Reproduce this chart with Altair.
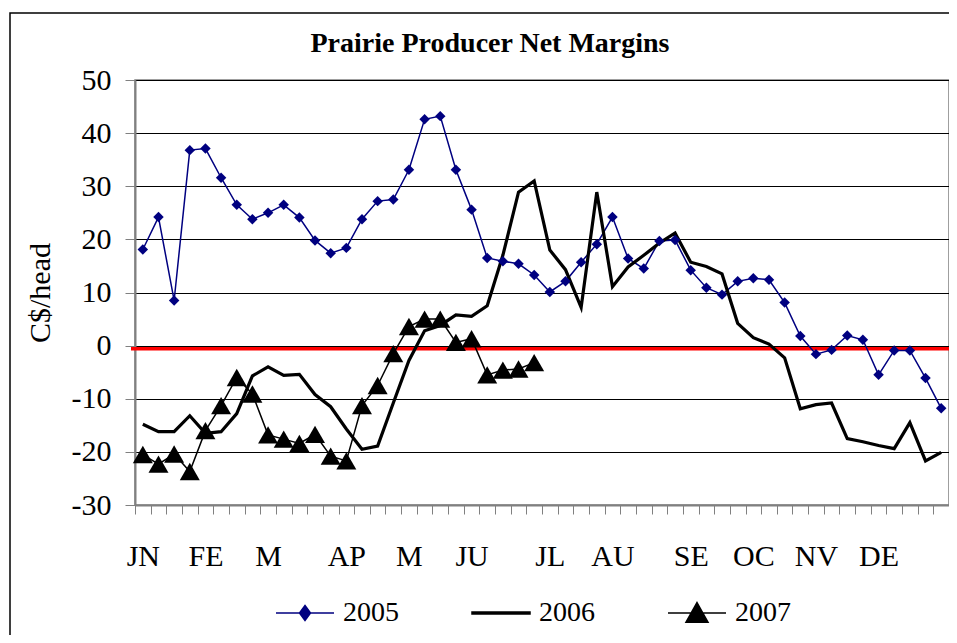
import altair as alt
import pandas as pd

# ---------------- data ----------------
weeks = list(range(1, 53))
margin_2005 = [18.1, 24.2, 8.5, 36.8, 37.1, 31.6, 26.5, 23.8, 25.0, 26.5,
               24.1, 19.8, 17.4, 18.4, 23.8, 27.2, 27.5, 33.1, 42.6, 43.2,
               33.1, 25.6, 16.5, 15.9, 15.4, 13.3, 10.1, 12.1, 15.7, 19.1,
               24.2, 16.4, 14.5, 19.7, 19.9, 14.2, 10.9, 9.6, 12.1, 12.7,
               12.4, 8.1, 1.8, -1.6, -0.8, 1.9, 1.1, -5.5, -0.9, -0.9,
               -6.1, -11.8]
margin_2006 = [-14.8, -16.2, -16.2, -13.2, -16.5, -16.2, -12.8, -5.7, -4.0, -5.6,
               -5.4, -9.2, -11.5, -15.7, -19.5, -18.9, -10.8, -2.8, 2.8, 3.8,
               5.8, 5.5, 7.5, 17.0, 28.9, 31.0, 18.0, 14.3, 7.2, 28.9,
               11.1, 14.8, 17.0, 19.3, 21.2, 15.7, 14.9, 13.5, 4.2, 1.5,
               0.3, -2.3, -11.9, -11.1, -10.8, -17.5, -18.1, -18.8, -19.4, -14.5,
               -21.7, -20.1]
margin_2007 = [-20.5, -22.3, -20.4, -23.7, -16.0, -11.3, -6.0, -9.1, -16.8, -17.6,
               -18.4, -16.7, -20.8, -21.7, -11.3, -7.5, -1.5, 3.6, 5.0, 5.0,
               0.6, 1.3, -5.5, -4.6, -4.4, -3.2]
series_names = ["2005", "2006", "2007"]
month_labels = ["JN", "FE", "M", "AP", "M", "JU", "JL", "AU", "SE", "OC", "NV", "DE"]
month_start_weeks = [1, 5, 9, 14, 18, 22, 27, 31, 36, 40, 44, 48]
breakeven = -0.6

rows = []
for name, vals in zip(series_names, [margin_2005, margin_2006, margin_2007]):
    for w, v in zip(weeks, vals):
        rows.append({"week": w, "margin": v, "series": name})
df = pd.DataFrame(rows)

# ---------------- styling ----------------
W, H = 814, 425
FONT = "Liberation Serif"
series_colors = ["#000080", "#000000", "#000000"]
legend_paths = [
    "M-1,0H1M0,-0.26L0.19,0L0,0.26L-0.19,0Z",
    "M-1,-0.035H1V0.035H-1Z",
    "M-1,0H1M0,-0.36L0.38,0.32L-0.38,0.32Z",
]

x_scale = alt.Scale(domain=[0.5, 52.5], nice=False, zero=False)
y_scale = alt.Scale(domain=[-30, 50], nice=False, zero=False)

boundaries = [w - 0.5 for w in weeks] + [weeks[-1] + 0.5]
starts = "[" + ",".join(str(s - 0.5) for s in month_start_weeks) + "]"
labs = "[" + ",".join(f"'{m}'" for m in month_labels) + "]"
label_expr = f"indexof({starts}, datum.value) >= 0 ? {labs}[indexof({starts}, datum.value)] : ''"

x_axis = alt.Axis(values=boundaries, labelExpr=label_expr, labelOffset=W / 52 / 2,
                  title=None, grid=False, tickColor="#808080", tickSize=9,
                  domainColor="#808080", domainWidth=2, labelFontSize=30,
                  labelPadding=27, labelOverlap=False, labelFlush=False,
                  labelColor="black", labelFont=FONT)
y_axis = alt.Axis(values=list(range(-30, 51, 10)), labelExpr="datum.value + ''",
                  title="C$/head", grid=True,
                  gridColor="black", gridWidth=1, tickColor="#808080", tickSize=10,
                  domainColor="#808080", domainWidth=2, labelFontSize=30,
                  labelPadding=14, titleFontSize=30, titleFontWeight="normal",
                  titlePadding=16, labelColor="black", titleColor="black",
                  labelFont=FONT, titleFont=FONT)

leg = alt.Legend(title=None, orient="none", legendX=140, legendY=503,
                 direction="horizontal", symbolSize=3364, symbolStrokeWidth=1.5,
                 labelFontSize=28, labelOffset=8, columnPadding=70,
                 labelFont=FONT, labelColor="black")

stroke_scale = alt.Scale(domain=series_names, range=series_colors)
fill_scale = alt.Scale(domain=series_names, range=series_colors)
shape_scale = alt.Scale(domain=series_names, range=legend_paths)

base = alt.Chart(df).encode(
    x=alt.X("week:Q", scale=x_scale, axis=x_axis),
    y=alt.Y("margin:Q", scale=y_scale, axis=y_axis),
)

frame = alt.Chart(pd.DataFrame({"f": [0]})).mark_rect(
    fillOpacity=0, stroke="black", strokeWidth=1.5
).encode(x=alt.value(-125), x2=alt.value(W + 60), y=alt.value(-67), y2=alt.value(H + 300))

red_line = alt.Chart(pd.DataFrame({"level": [breakeven]})).mark_rule(
    color="#ff0000", strokeWidth=3.5
).encode(y=alt.Y("level:Q", scale=y_scale, axis=y_axis), x=alt.value(-4), x2=alt.value(W))

thin_lines = base.transform_filter(alt.datum.series != "2006").mark_line(strokeWidth=1.5).encode(
    stroke=alt.Stroke("series:N", scale=stroke_scale, legend=leg),
)

line_2006 = base.transform_filter(alt.datum.series == "2006").mark_line(
    strokeWidth=3.2, color="black")

diamonds = base.transform_filter(alt.datum.series == "2005").mark_point(
    shape="diamond", filled=True, size=110, color="#000080", opacity=1)

triangles = base.transform_filter(alt.datum.series == "2007").mark_point(
    shape="triangle-up", filled=True, size=400, color="black", opacity=1)

legend_layer = base.transform_filter("false").mark_point(filled=True, opacity=1).encode(
    shape=alt.Shape("series:N", scale=shape_scale, legend=leg),
    fill=alt.Fill("series:N", scale=fill_scale, legend=leg),
    stroke=alt.Stroke("series:N", scale=stroke_scale, legend=leg),
)

chart = alt.layer(frame, red_line, thin_lines, line_2006, diamonds, triangles, legend_layer).properties(
    width=W, height=H,
    title=alt.TitleParams("Prairie Producer Net Margins", font=FONT, fontSize=28,
                          fontWeight="bold", anchor="middle", frame="group",
                          baseline="alphabetic", dx=-52, dy=96, offset=28, color="black"),
    autosize=alt.AutoSizeParams(type="none"),
    padding={"left": 127, "top": 72, "right": 0, "bottom": 130},
).configure(font=FONT).configure_view(stroke="#808080", strokeWidth=1.5)

chart.save("out.html", embed_options={"renderer": "svg", "actions": False})
